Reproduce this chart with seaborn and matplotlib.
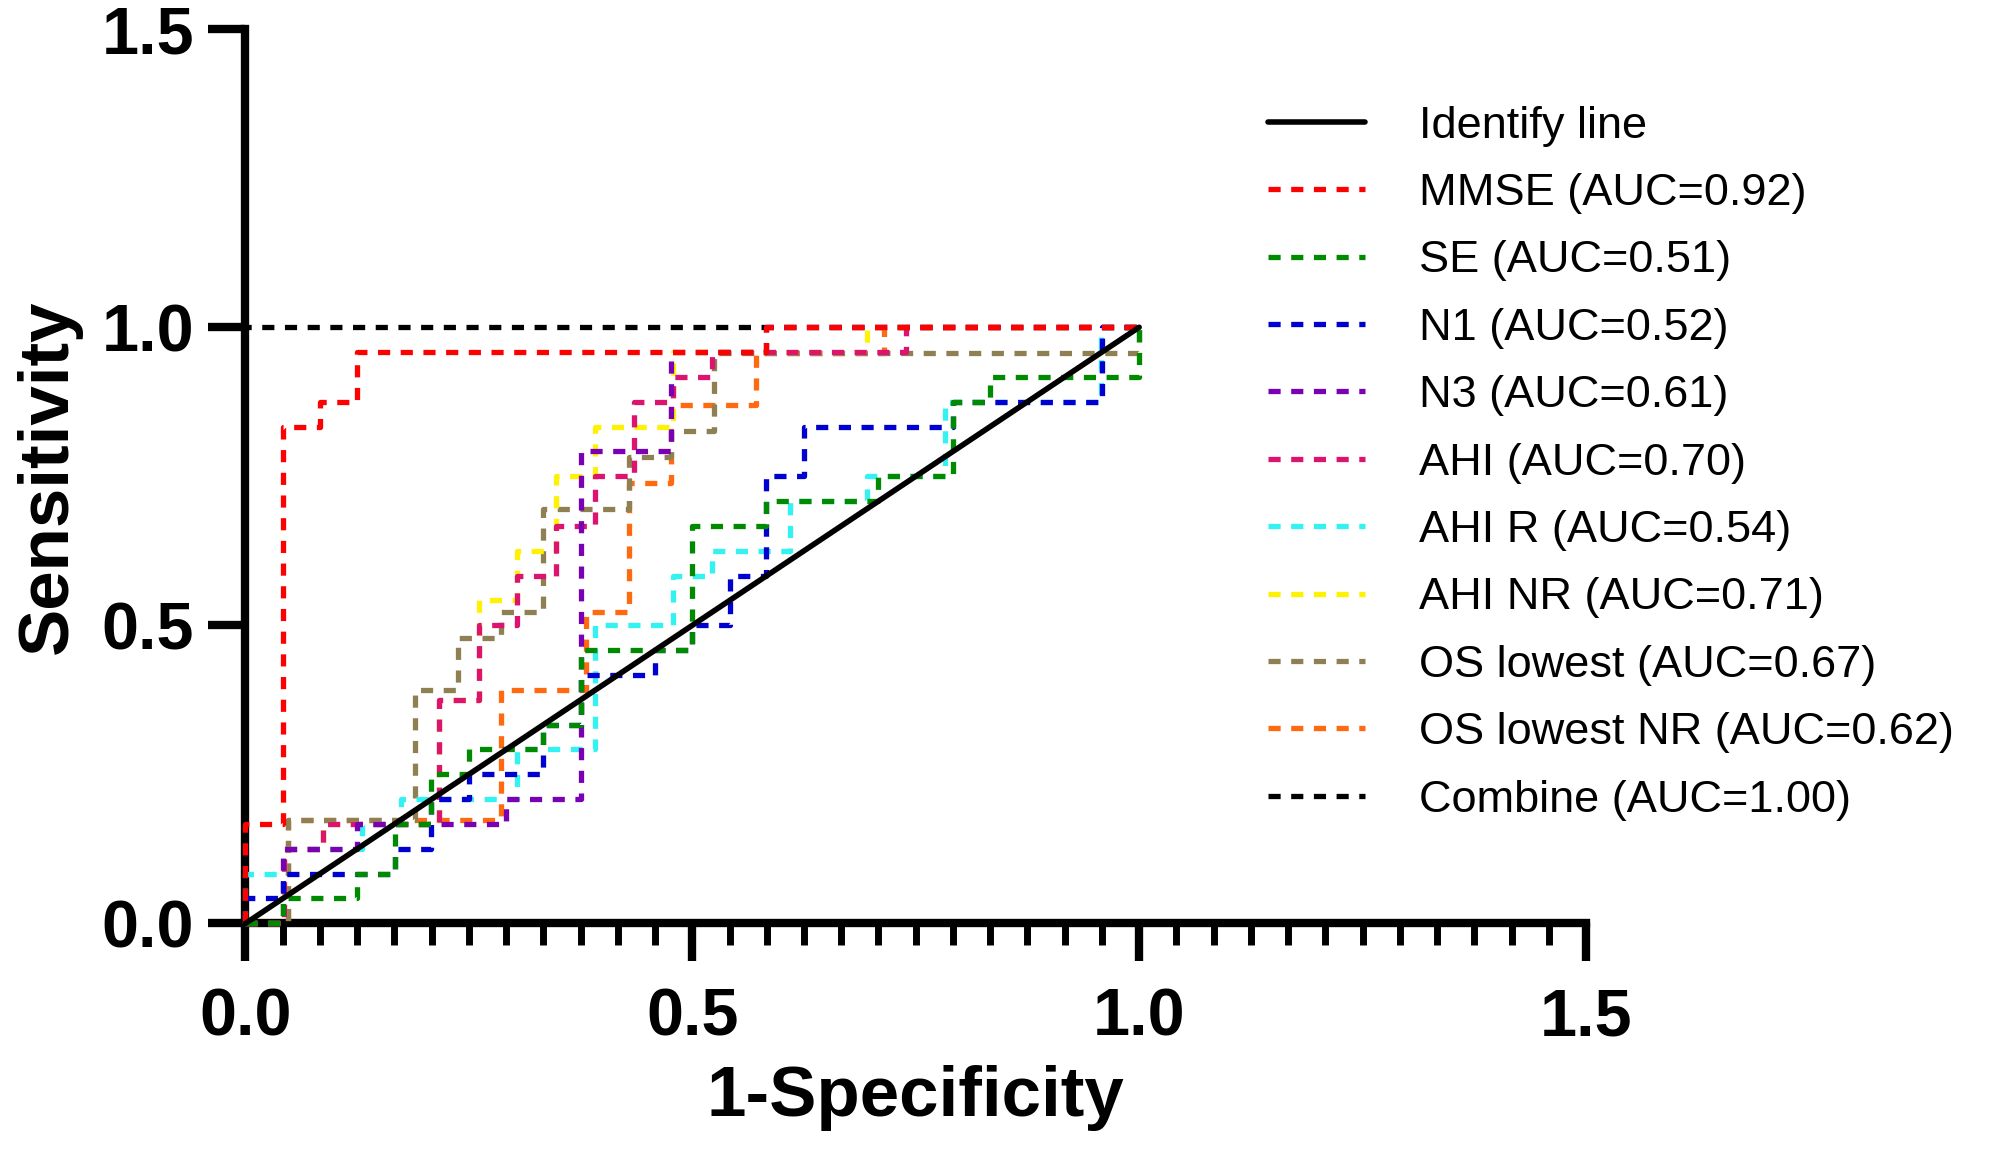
import seaborn as sns
import matplotlib.pyplot as plt
from matplotlib.ticker import MultipleLocator, FormatStrFormatter

# ROC curves (1-specificity, sensitivity)
identify_fpr = [0, 1.0]
identify_tpr = [0, 1.0]

mmse_fpr = [0, 0, 0.042, 0.042, 0.083, 0.083, 0.125, 0.125, 0.583, 0.583, 1.0]
mmse_tpr = [0, 0.167, 0.167, 0.833, 0.833, 0.875, 0.875, 0.958, 0.958, 1.0, 1.0]

se_fpr = [0, 0.042, 0.042, 0.125, 0.125, 0.167, 0.167, 0.208, 0.208, 0.25, 0.25, 0.333, 0.333,
          0.375, 0.375, 0.5, 0.5, 0.583, 0.583, 0.708, 0.708, 0.792, 0.792, 0.833, 0.833, 1.0, 1.0]
se_tpr = [0, 0, 0.042, 0.042, 0.083, 0.083, 0.167, 0.167, 0.25, 0.25, 0.292, 0.292, 0.333,
          0.333, 0.458, 0.458, 0.667, 0.667, 0.708, 0.708, 0.75, 0.75, 0.875, 0.875, 0.917, 0.917, 1.0]

n1_fpr = [0, 0, 0.042, 0.042, 0.167, 0.167, 0.208, 0.208, 0.25, 0.25, 0.333, 0.333, 0.375, 0.375,
          0.458, 0.458, 0.5, 0.5, 0.542, 0.542, 0.583, 0.583, 0.625, 0.625, 0.792, 0.792, 0.958, 0.958, 1.0]
n1_tpr = [0, 0.042, 0.042, 0.083, 0.083, 0.125, 0.125, 0.208, 0.208, 0.25, 0.25, 0.333, 0.333, 0.417,
          0.417, 0.458, 0.458, 0.5, 0.5, 0.583, 0.583, 0.75, 0.75, 0.833, 0.833, 0.875, 0.875, 1.0, 1.0]

n3_fpr = [0, 0.042, 0.042, 0.125, 0.125, 0.292, 0.292, 0.375, 0.375, 0.476, 0.476, 0.583, 0.583, 1.0]
n3_tpr = [0, 0, 0.125, 0.125, 0.167, 0.167, 0.208, 0.208, 0.792, 0.792, 0.958, 0.958, 1.0, 1.0]

ahi_fpr = [0, 0.043, 0.043, 0.087, 0.087, 0.217, 0.217, 0.261, 0.261, 0.304, 0.304, 0.348, 0.348,
           0.391, 0.391, 0.435, 0.435, 0.478, 0.478, 0.522, 0.522, 0.739, 0.739, 1.0]
ahi_tpr = [0, 0, 0.125, 0.125, 0.167, 0.167, 0.375, 0.375, 0.5, 0.5, 0.583, 0.583, 0.667,
           0.667, 0.75, 0.75, 0.875, 0.875, 0.917, 0.917, 0.958, 0.958, 1.0, 1.0]

ahir_fpr = [0, 0, 0.043, 0.043, 0.13, 0.13, 0.174, 0.174, 0.304, 0.304, 0.391, 0.391, 0.478,
            0.478, 0.522, 0.522, 0.609, 0.609, 0.696, 0.696, 0.783, 0.783, 0.957, 0.957, 1.0]
ahir_tpr = [0, 0.083, 0.083, 0.125, 0.125, 0.167, 0.167, 0.208, 0.208, 0.292, 0.292, 0.5, 0.5,
            0.583, 0.583, 0.625, 0.625, 0.708, 0.708, 0.75, 0.75, 0.875, 0.875, 1.0, 1.0]

ahinr_fpr = [0, 0.043, 0.043, 0.087, 0.087, 0.217, 0.217, 0.261, 0.261, 0.304, 0.304, 0.348,
             0.348, 0.391, 0.391, 0.478, 0.478, 0.696, 0.696, 1.0]
ahinr_tpr = [0, 0, 0.125, 0.125, 0.167, 0.167, 0.375, 0.375, 0.542, 0.542, 0.625, 0.625,
             0.75, 0.75, 0.833, 0.833, 0.958, 0.958, 1.0, 1.0]

os_fpr = [0, 0.048, 0.048, 0.19, 0.19, 0.238, 0.238, 0.286, 0.286, 0.333, 0.333, 0.429, 0.429,
          0.476, 0.476, 0.524, 0.524, 1.0, 1.0]
os_tpr = [0, 0, 0.174, 0.174, 0.391, 0.391, 0.478, 0.478, 0.522, 0.522, 0.696, 0.696, 0.783,
          0.783, 0.826, 0.826, 0.957, 0.957, 1.0]

osnr_fpr = [0, 0.048, 0.048, 0.286, 0.286, 0.381, 0.381, 0.429, 0.429, 0.476, 0.476, 0.571,
            0.571, 0.714, 0.714, 1.0]
osnr_tpr = [0, 0, 0.174, 0.174, 0.391, 0.391, 0.522, 0.522, 0.739, 0.739, 0.87, 0.87,
            0.957, 0.957, 1.0, 1.0]

combine_fpr = [0, 0, 1.0]
combine_tpr = [0, 1.0, 1.0]

labels = ['Identify line', 'MMSE (AUC=0.92)', 'SE (AUC=0.51)', 'N1 (AUC=0.52)', 'N3 (AUC=0.61)',
          'AHI (AUC=0.70)', 'AHI R (AUC=0.54)', 'AHI NR (AUC=0.71)', 'OS lowest (AUC=0.67)',
          'OS lowest NR (AUC=0.62)', 'Combine (AUC=1.00)']
colors = ['black', '#FF0000', '#008A00', '#0000D0', '#7A00B4', '#DC1470', '#33F2F2',
          '#FFF200', '#8E8052', '#FF6A10', 'black']
xs = [identify_fpr, mmse_fpr, se_fpr, n1_fpr, n3_fpr, ahi_fpr, ahir_fpr, ahinr_fpr,
      os_fpr, osnr_fpr, combine_fpr]
ys = [identify_tpr, mmse_tpr, se_tpr, n1_tpr, n3_tpr, ahi_tpr, ahir_tpr, ahinr_tpr,
      os_tpr, osnr_tpr, combine_tpr]

sns.set_theme(style="ticks")
plt.rcParams['font.family'] = ['Liberation Sans', 'DejaVu Sans']
plt.rcParams['text.color'] = 'black'
plt.rcParams['axes.labelcolor'] = 'black'
plt.rcParams['xtick.color'] = 'black'
plt.rcParams['ytick.color'] = 'black'

fig = plt.figure(figsize=(19.95, 11.66), dpi=100)
ax = fig.add_axes([0.123, 0.208, 0.672, 0.767])

for i, (lab, fx, fy, col) in enumerate(zip(labels, xs, ys, colors)):
    if i == 0:
        ls, lw = '-', 4.0
    else:
        ls, lw = (0, (2.3, 2.0)), 3.8
    # first data set drawn on top, like the original software
    sns.lineplot(x=fx, y=fy, ax=ax, sort=False, estimator=None, color=col,
                 linewidth=lw, linestyle=ls, label=lab, zorder=30 - i, clip_on=False)

ax.set_xlim(0, 1.5)
ax.set_ylim(0, 1.5)
ax.set_xticks([0, 0.5, 1.0, 1.5])
ax.set_yticks([0, 0.5, 1.0, 1.5])
ax.xaxis.set_major_formatter(FormatStrFormatter('%.1f'))
ax.yaxis.set_major_formatter(FormatStrFormatter('%.1f'))
ax.xaxis.set_minor_locator(MultipleLocator(1 / 24))

ax.tick_params(which='major', length=27, width=6, labelsize=48, color='black', labelcolor='black')
ax.tick_params(axis='x', which='major', pad=19)
ax.tick_params(axis='y', which='major', pad=10)
ax.tick_params(axis='x', which='minor', length=16, width=5, color='black')
ax.tick_params(axis='y', which='minor', length=0)
for t in ax.get_xticklabels() + ax.get_yticklabels():
    t.set_fontweight('bold')

for side in ['top', 'right']:
    ax.spines[side].set_visible(False)
for side in ['left', 'bottom']:
    ax.spines[side].set_linewidth(6)
    ax.spines[side].set_color('black')

ax.set_xlabel('1-Specificity', fontsize=51, fontweight='bold', labelpad=11, color='black')
ax.set_ylabel('Sensitivity', fontsize=51, fontweight='bold', labelpad=14, color='black')

handles, labs = ax.get_legend_handles_labels()
ax.legend(handles, labs, loc='upper left', bbox_to_anchor=(0.6356, 0.9095),
          bbox_transform=fig.transFigure, frameon=False, fontsize=32.5,
          handlelength=2.15, handletextpad=1.2, labelspacing=0.585,
          borderpad=0, borderaxespad=0, labelcolor='black')

fig.savefig('out.png', dpi=100, facecolor='white')
